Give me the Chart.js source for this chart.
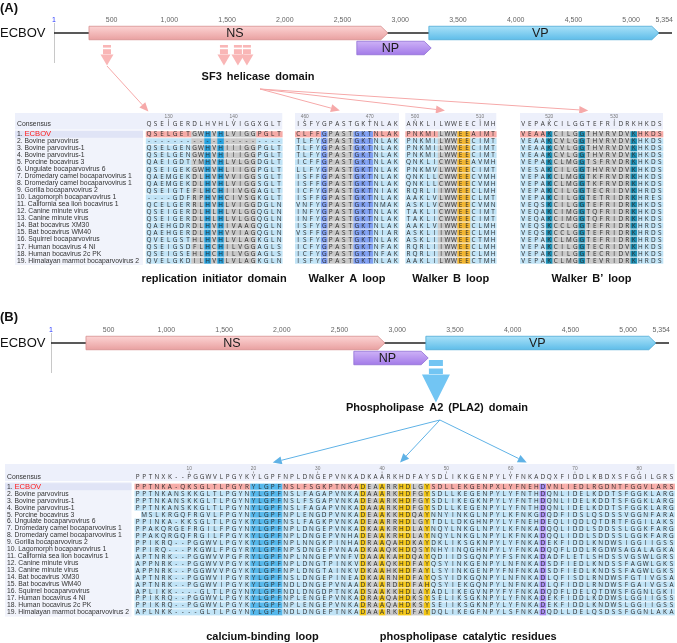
<!DOCTYPE html>
<html>
<head>
<meta charset="utf-8">
<title>ECBOV domains</title>
<script src="https://cdn.jsdelivr.net/npm/chart.js@4.4.1/dist/chart.umd.min.js"></script>
<style>
  html, body { margin: 0; padding: 0; background: #fff; }
  canvas { display: block; }
</style>
</head>
<body>
<canvas id="figure" width="677" height="643"></canvas>
<script>
// Genome map
const genomeTicks = [1, 500, 1000, 1500, 2000, 2500, 3000, 3500, 4000, 4500, 5000, 5354];
const geneNames = ['NS', 'NP', 'VP'];
const geneStart = [304, 2624, 3248];
const geneEnd = [2893, 3268, 5240];
const geneTrack = [0, 1, 0];
const sf3Sites = [460, 1473, 1594, 1672];
const pla2Sites = [3335];

const strains = [
  '1. ECBOV',
  '2. Bovine parvovirus',
  '3. Bovine parvovirus-1',
  '4. Bovine parvovirus-1',
  '5. Porcine bocavirus 3',
  '6. Ungulate bocaparvovirus 6',
  '7. Dromedary camel bocaparvovirus 1',
  '8. Dromedary camel bocaparvovirus 1',
  '9. Gorilla bocaparvovirus 2',
  '10. Lagomorph bocaparvovirus 1',
  '11. California sea lion bocavirus 1',
  '12. Canine minute virus',
  '13. Canine minute virus',
  '14. Bat bocavirus XM30',
  '15. Bat bocavirus WM40',
  '16. Squirrel bocaparvovirus',
  '17. Human bocavirus 4 NI',
  '18. Human bocavirus 2c PK',
  '19. Himalayan marmot bocaparvovirus 2'
];

// Panel A: NS alignment, four windows
// class codes: n = plain, g = conserved (grey), m = motif
const repStart = 127;
const repTicks = [130, 140];
const repCons = 'QSEIGERDLHVHLVIGGXGLT';
const repClass = 'nnnnnnnggmgmgggggnnnn';
const repSeqs = [
  'QSELGETGWHVHLVIGGPGLT',
  '---------------------',
  'QSELGENGWHVHIIIGGPGLT',
  'QSELGENGWHVHIIIGGPGLT',
  'QAEIGDTYMHVHLVLGGDGLT',
  'QSEIGEKGWHVHLIIGGPGLT',
  'QAEMGEKDLHVHVVIGGSGLT',
  'QAEMGEKDLHVHLVIGGSGLT',
  'QSEIGTEFLHCHIIVGGAGLT',
  '----GDFRPHVHCIVSGKGLT',
  'QCELGERRLHVHLVIGGDGLN',
  'QSEIGERDLHLHLVLGGQGLN',
  'QSEIGERDLHLHLVLGGQGLN',
  'QAEHGDRDLHVHIVAAGQGLN',
  'QAEHGERDLHVHVVIAGQGLN',
  'QVELGSTHLHVHLVLAGKGLN',
  'QSEIGSDFLHCHILVGGAGLS',
  'QSEIGSEHLHCHILVGGAGLS',
  'QVELGKDILHVHLVLAGKGLN'
];

const walkAStart = 459;
const walkATicks = [460, 470];
const walkACons = 'ISFYGPASTGKTNLAK';
const walkAClass = 'nnnnmggggmmmnnnn';
const walkASeqs = [
  'CLFFGPASTGKTNLAK',
  'TLFYGPASTGKTNLAK',
  'TLFYGPASTGKTNLAK',
  'TLFYGPASTGKTNLAK',
  'ICFFGPASTGKTNLAK',
  'LLFYGPASTGKTNLAK',
  'ISFFGPASTGKTNLAK',
  'ISFFGPASTGKTNLAK',
  'ICFYGPASTGKTNIAK',
  'ISFFGPASTGKTNLAK',
  'VNFYGPASTGKTNMAK',
  'INFYGPASTGKTNLAK',
  'INFYGPASTGKTNLAK',
  'ISFYGPASTGKTNLAK',
  'VSFFGPASTGKTNIAR',
  'ISFYGPASTGKTNLAK',
  'ICFYGPASTGKTNFAK',
  'ICFYGPASTGKTNFAK',
  'ISFYGPASTGKTNLAK'
];

const walkBStart = 499;
const walkBTicks = [500, 510];
const walkBCons = 'ANKLILWWEECIMH';
const walkBClass = 'nnnnngggmmnnnn';
const walkBSeqs = [
  'PNKMILWWEEAIMT',
  'PNKMILWWEECIMT',
  'PNKMILWWEECIMT',
  'PNKMILWWEECIMT',
  'QNKLICWWEEAVMH',
  'PNKMVLWWEECIMT',
  'QNKLLCWWEECVMH',
  'QNKLLCWWEECVMH',
  'RQRLIIWWEECLMH',
  'AAKLVLWWEECLMT',
  'ASKLVCWWEECVMN',
  'TAKLICWWEECIMT',
  'TAKLICWWEECIMT',
  'AAKLVIWWEECLMH',
  'ASKLIIWWEECLMH',
  'ASKLIIWWEECTMH',
  'RQRLIIWWEECLMH',
  'RQRLIIWWEECLMH',
  'AAKLILWWEECTMH'
];

const walkB2Start = 516;
const walkB2Ticks = [520, 530];
const walkB2Cons = 'VEPAKCILGGTEFRIDRKHKDS';
const walkB2Class = 'nnnnmggggmgggggggmnnnn';
const walkB2Seqs = [
  'VEAAKCILGGTHVRVDVKHKDS',
  'VEAAKCVLGGTHVRVDVKHKDS',
  'VEAAKCVLGGTHVRVDVKHKDS',
  'VEAAKCVLGGTHVRVDVKHKDS',
  'VEPAKCLMGGTSFRVDRKHKDS',
  'VESAKCILGGTHVRVDVKHKDS',
  'VEPAKCLMGGTKFRVDRKHKDS',
  'VEPAKCLMGGTKFRVDRKHKDS',
  'VEPAKCILGGTECRIDVKHRDS',
  'VEPAKCILGGTETRIDRKHRES',
  'VEQSKCILGGTEFRIDRKHKDS',
  'VEQAKCIMGGTQFRIDRKHKDS',
  'VEQAKCIMGGTQFRIDRKHKDS',
  'VEQSKCCLGGTEFRIDRKHRDS',
  'VEQSKCCLGGTEFRIDRKHRDS',
  'VEPAKCLMGGTEFRIDRKHRDS',
  'VEPAKCILGGTECRIDVKHKDS',
  'VEPAKCILGGTECRIDVKHKDS',
  'VEPAKCLMGGTEVRIDRKHRDS'
];

// Panel B: VP PLA2 alignment
// class codes: n plain, m calcium loop, y / g catalytic block, p catalytic D
const plaStart = 2;
const plaTicks = [10, 20, 30, 40, 50, 60, 70, 80];
const plaCons = 'PPTNXK--PGGWVLPGYKYLGPFNPLDNGEPVNKADKAARKHDFAYSDLIKKGENPYLYFNKADQXFIDDLKBDXSFGGILGRS';
const plaClass = 'nnnnnnnnnnnnnnnnnn' + 'mmmmm' + 'nnnnnnnnnnnn' + 'yggyggyyggy' +
                 'nnnnnnnnnnnnnnnnn' + 'p' + 'nnnnnnnnnnnnnnnnnnnn';
const plaSeqs = [
  'PPTNKA-QKSGLTLPGYRYLGPFNSLFSGKPTNKADEAARRHDLGYSDLLEKGENPXLYFNEHDVNLIEDLRGDNTFGGVLARS',
  'PPTNKANSKKGLTLPGYNYLGPFNSLFAGAPVNKADAAARKHDFGYSDLLKEGENPYLYFNTHDQNLIDELKDDTSFGGKLARG',
  'PPTNKANSKKGLTLPGYNYLGPFNSLFSGAPVNKADEAARKHDFGYSDLIKEGKNPYLYFNTHDQNLIDELKDDTSFGGKLARG',
  'PPTNKANSKKGLTLPGYNYLGPFNSLFAGAPVNKADAAARKHDFGYSDLLKEGENPYLYFNTHDQNLIDELKDDTSFGGKLARG',
  ' MSLKRGQFRGVLFPGYNYLGPFNPLENGDPVNKADEAAKKHDQAYNNYINKGLNPYLKFNKGDQDFIDSLQSDSSVGGNFARA',
  'PPINKA-KKSGLTLPGYKYLGPFNSLFAGKPVNKADEAARRHDLGYTDLLDKGHNPYLYFNEHDEQLIQDLQTDRTFGGILAKS',
  'PPAKQRGEFRGILFPGYNYLGPFNPLDNGEPVNKADKAAKRHDLAYNQYLNKGLNPYLKFNKADQQLIDDLSDDSSLGGKFARG',
  'PPAKQRGQFRGILFPGYKYLGPFNPLDNGEPVNHADEAAKRHDLAYNQYLNKGLNPYLKFNKADQQLIDDLSDDSSLGGKFARG',
  'PPIKRQ--PGGWVLPGYKYLGPFNPLNNGKPINHADRAAQAHDKAYDKLIKSGKNPYLYFNKADEKFIDDLKNDWSIGGIIGSS',
  'PPIRQ---PKGWLFPGYRYLGPFNPSDNGEPVNAADKAAQKHDQSYNHYINQGHNPYLYFNKADQQFLDDLRGDWSAGALAGKA',
  'APTNRK--PGGWVVPGFRYLGPFNPLNNGEPVNFVDAAAKAHDQAYQDIIDSGQNPYFSFNKADADFLETLSHDSSVGSWLGRS',
  'APPNRK--PGGWVVPGYKYLGPFNPLDNGTPINKVDKAAQKHDFAYQSYINKGENPYLNFNKADSDFIEDLKNDSSFAGWLGKS',
  'APPNRK--PGGWVVPGYKYLGPFNPLDNGTAINKVDKAAHKHDFAYLSYINKGENPYFNFNKADSDFIEDLKNDSSFAGWLGKS',
  'APTNRK--PGGWVIPGYRYLGPFNSLDNGEPINEADKAARNHDFAYQSYIDKGQNPYLNFNKADLQFISDLRNDWSFGTIVGSA',
  'APTNRK--PGGWVIPGYKYLGPFNDLDNGEPVNAADKAARDHDFAHQSYIEKGQNPYLNFNKADLQFIDDLRNDWSFGAIVGSA',
  'APLIKK----GLTLPGYNYLGPFNDLDNGDPTNKADSAAKKHDLAYADLIKEGVNPYFYFNKADQDFLDELQTDWSFGGNLGKI',
  'PPIKRQ--PGGWVLPGYKYLGPFNPLENGEPVNKADRAAQAHDKSYSELIKSGKNPYLYFNKADEKFIDDLKDDWSLGGIIGSS',
  'PPIKRQ--PGGWVLPGYKYLGPFNPLENGEPVNKADRAAQAHDKSYSEIIKSGKNPYLYFNKADEKFIDDLKNDWSLGGIIGSS',
  'APLNKK----GLTLPGYNYLGPFNDLDNGEPTNKADAAARKHDFAYDQLIKEGFNPYLSFNKADQDLLDELQSDSSFGGNLAKA'
];

// ---------- layout ----------
const W = 677, H = 643;
const UI = '"Liberation Sans", Arial, sans-serif';
const SEQ_FONT = '6.4px "Open Sans", "Liberation Sans", sans-serif';
const NAME_FONT = '6.8px ' + UI;
const LIGHT = '#c0e3f6', PINK = '#f6aba7', GREY = '#c9c9c9';
const CONS_ROW = -0.43;

// linear range so that value v0 lands on pixel p0 and v1 on p1
function fit(v0, p0, v1, p1, size) {
  const k = (p1 - p0) / (v1 - v0);
  return { min: v0 - p0 / k, max: v0 + (size - p0) / k };
}
function hidden(axis, range, reverse) {
  return Object.assign({ type: 'linear', axis: axis, display: false, bounds: 'data', reverse: !!reverse }, range);
}

const MAP_A = { letter: '(A)', letterY: 8, tickY: 20, vTop: 23, vBottom: 63 };
const MAP_B = { letter: '(B)', letterY: 317, tickY: 330, vTop: 333, vBottom: 373 };
const ARROW_A = { top: 45, r1: 2.6, gap: 1.6, r2: 5, gap2: 0.4, head: 11, shaft: 8, headW: 13, color: '#f9b6b6' };
const ARROW_B = { top: 360, r1: 6, gap: 2.5, r2: 5.5, gap2: 0.5, head: 28, shaft: 14, headW: 28, color: '#72c5f3' };

const ALIGN_A = { namesLeft: 15, namesRight: 143, headTop: 113, headBottom: 129.6, numY: 116.3, labelY: 279 };
const ALIGN_B = { namesLeft: 5, namesRight: 131.5, headTop: 464, headBottom: 481, numY: 468.8, labelY: 637 };

const segsA = [
  { offset: 145.8 / 6.5, start: repStart, ticks: repTicks, cons: repCons, cls: repClass, seqs: repSeqs,
    colors: { m: '#26a3e0' }, labels: [{ text: 'replication initiator domain' }] },
  { offset: 295 / 6.5, start: walkAStart, ticks: walkATicks, cons: walkACons, cls: walkAClass, seqs: walkASeqs,
    colors: { m: '#7f9ff2' }, labels: [{ text: 'Walker A loop' }] },
  { offset: 405.3 / 6.5, start: walkBStart, ticks: walkBTicks, cons: walkBCons, cls: walkBClass, seqs: walkBSeqs,
    colors: { m: '#f2b632' }, labels: [{ text: 'Walker B loop' }] },
  { offset: 520 / 6.5, start: walkB2Start, ticks: walkB2Ticks, cons: walkB2Cons, cls: walkB2Class, seqs: walkB2Seqs,
    colors: { m: '#1b90b6' }, labels: [{ text: 'Walker B\u2019 loop' }] }
];
const segsB = [
  { offset: 134.5 / 6.43, start: plaStart, ticks: plaTicks, cons: plaCons, cls: plaClass, seqs: plaSeqs,
    colors: { m: '#55b8ec', y: '#f3c614', p: '#a88cf2' },
    labels: [{ text: 'calcium-binding loop', col: 19.4 }, { text: 'phospholipase catalytic residues', col: 51.4 }] }
];

// ---------- drawing helpers ----------
function drawGene(ctx, x0, x1, yc, h, tip, c) {
  const g = ctx.createLinearGradient(0, yc - h / 2, 0, yc + h / 2);
  g.addColorStop(0, c[0]);
  g.addColorStop(1, c[1]);
  ctx.beginPath();
  ctx.moveTo(x0, yc - h / 2);
  ctx.lineTo(x1 - tip, yc - h / 2);
  ctx.lineTo(x1, yc);
  ctx.lineTo(x1 - tip, yc + h / 2);
  ctx.lineTo(x0, yc + h / 2);
  ctx.closePath();
  ctx.fillStyle = g;
  ctx.fill();
  ctx.strokeStyle = c[2];
  ctx.lineWidth = 0.8;
  ctx.stroke();
}

const geneColors = {
  NS: ['#fcd3d3', '#e9a1a1', '#d58e8e'],
  NP: ['#cdb1f7', '#a37be8', '#9170d6'],
  VP: ['#a9e1f8', '#5fbde9', '#4ba9d6']
};

function drawMap(ctx, xs, ts, lay) {
  ctx.textBaseline = 'middle';
  ctx.textAlign = 'left';
  ctx.fillStyle = '#111';
  ctx.font = 'bold 13px ' + UI;
  ctx.fillText(lay.letter, 0, lay.letterY);

  // tick labels
  ctx.font = '7px ' + UI;
  genomeTicks.forEach((t, i) => {
    const x = xs.getPixelForValue(t);
    const last = i === genomeTicks.length - 1;
    ctx.textAlign = last ? 'right' : 'center';
    ctx.fillStyle = i === 0 ? '#2233ff' : '#666';
    ctx.fillText(t.toLocaleString('en-US'), last ? x + 1 : x, lay.tickY);
  });

  const yLine = ts.getPixelForValue(0);
  const xFirst = xs.getPixelForValue(genomeTicks[0]);
  const xLast = xs.getPixelForValue(genomeTicks[genomeTicks.length - 1]);
  ctx.strokeStyle = '#c8c8c8';
  ctx.lineWidth = 1;
  ctx.beginPath();
  ctx.moveTo(xFirst + 0.5, lay.vTop);
  ctx.lineTo(xFirst + 0.5, lay.vBottom);
  ctx.stroke();
  ctx.strokeStyle = '#222';
  ctx.lineWidth = 1.4;
  ctx.beginPath();
  ctx.moveTo(xFirst, yLine);
  ctx.lineTo(xLast, yLine);
  ctx.stroke();

  ctx.font = '13px ' + UI;
  ctx.fillStyle = '#111';
  ctx.textAlign = 'left';
  ctx.fillText('ECBOV', 0, yLine);

  geneNames.forEach((nm, i) => {
    const x0 = xs.getPixelForValue(geneStart[i]);
    const x1 = xs.getPixelForValue(geneEnd[i]);
    const yc = ts.getPixelForValue(geneTrack[i]);
    drawGene(ctx, x0, x1, yc, 13.5, 7, geneColors[nm]);
    ctx.font = '12.5px ' + UI;
    ctx.fillStyle = '#1a1a1a';
    ctx.textAlign = 'center';
    ctx.fillText(nm, (x0 + x1 - 7) / 2, yc + 0.5);
  });
}

function blockArrow(ctx, x, a) {
  ctx.fillStyle = a.color;
  let y = a.top;
  ctx.fillRect(x - a.shaft / 2, y, a.shaft, a.r1);
  y += a.r1 + a.gap;
  ctx.fillRect(x - a.shaft / 2, y, a.shaft, a.r2);
  y += a.r2 + a.gap2;
  ctx.beginPath();
  ctx.moveTo(x - a.headW / 2, y);
  ctx.lineTo(x + a.headW / 2, y);
  ctx.lineTo(x, y + a.head);
  ctx.closePath();
  ctx.fill();
}

function connector(ctx, x0, y0, x1, y1, color, L, Wd) {
  const ang = Math.atan2(y1 - y0, x1 - x0);
  const bx = x1 - L * Math.cos(ang), by = y1 - L * Math.sin(ang);
  ctx.strokeStyle = color;
  ctx.lineWidth = 1;
  ctx.beginPath();
  ctx.moveTo(x0, y0);
  ctx.lineTo(bx, by);
  ctx.stroke();
  ctx.fillStyle = color;
  ctx.beginPath();
  ctx.moveTo(x1, y1);
  ctx.lineTo(bx + Wd * Math.sin(ang), by - Wd * Math.cos(ang));
  ctx.lineTo(bx - Wd * Math.sin(ang), by + Wd * Math.cos(ang));
  ctx.closePath();
  ctx.fill();
}

function boldLabel(ctx, text, x, y, size) {
  ctx.font = 'bold ' + size + 'px ' + UI;
  ctx.fillStyle = '#111';
  ctx.textAlign = 'center';
  ctx.textBaseline = 'middle';
  ctx.wordSpacing = '2px';
  ctx.fillText(text, x, y);
  ctx.wordSpacing = '0px';
}

function drawAlignment(ctx, xs, ys, lay, segs) {
  const colW = xs.getPixelForValue(1) - xs.getPixelForValue(0);
  const rowH = ys.getPixelForValue(2) - ys.getPixelForValue(1);
  const lastY = ys.getPixelForValue(strains.length);
  const namesW = lay.namesRight - lay.namesLeft;

  // header bands
  ctx.fillStyle = '#edf0fb';
  segs.forEach((sg, k) => {
    const left = k === 0 ? lay.namesLeft : xs.getPixelForValue(sg.offset);
    const right = xs.getPixelForValue(sg.offset + sg.cons.length);
    ctx.fillRect(left, lay.headTop, right - left, lay.headBottom - lay.headTop);
  });
  // name panel
  ctx.fillStyle = '#f1f3fb';
  ctx.fillRect(lay.namesLeft, lay.headBottom + 0.8, namesW, lastY + rowH / 2 - lay.headBottom);
  ctx.fillStyle = '#e0e4f6';
  ctx.fillRect(lay.namesLeft, ys.getPixelForValue(1) - rowH / 2, namesW, rowH);

  // names
  ctx.textBaseline = 'middle';
  ctx.textAlign = 'left';
  ctx.font = NAME_FONT;
  ctx.fillStyle = '#333';
  const nx = lay.namesLeft + 2;
  ctx.fillText('Consensus', nx, ys.getPixelForValue(CONS_ROW));
  strains.forEach((nm, i) => {
    const y = ys.getPixelForValue(i + 1);
    ctx.font = NAME_FONT;
    ctx.fillStyle = '#333';
    if (i === 0) {
      const cut = nm.indexOf(' ') + 1;
      ctx.fillText(nm.slice(0, cut), nx, y);
      const w = ctx.measureText(nm.slice(0, cut)).width;
      ctx.font = '7.6px ' + UI;
      ctx.fillStyle = '#ff1a1a';
      ctx.fillText(nm.slice(cut), nx + w, y);
    } else {
      ctx.fillText(nm, nx, y);
    }
  });

  segs.forEach(sg => {
    const pal = Object.assign({ g: GREY }, sg.colors);
    const cx = j => xs.getPixelForValue(sg.offset + j + 0.5);

    // position numbers
    ctx.font = '4.8px ' + UI;
    ctx.fillStyle = '#777';
    ctx.textAlign = 'center';
    sg.ticks.forEach(t => {
      const x = cx(t - sg.start);
      ctx.fillText(String(t), x, lay.numY);
      ctx.fillRect(x - 0.3, lay.numY + 2.6, 0.6, 2);
    });

    // consensus letters
    ctx.font = SEQ_FONT;
    ctx.fillStyle = '#333';
    const cy = ys.getPixelForValue(CONS_ROW);
    for (let j = 0; j < sg.cons.length; j++) ctx.fillText(sg.cons[j], cx(j), cy + 0.3);

    // cells
    sg.seqs.forEach((seq, i) => {
      const y = ys.getPixelForValue(i + 1);
      for (let j = 0; j < seq.length; j++) {
        if (seq[j] === ' ') continue;
        const c = sg.cls[j] || 'n';
        ctx.fillStyle = c === 'n' ? (i === 0 ? PINK : LIGHT) : pal[c];
        const x0 = xs.getPixelForValue(sg.offset + j);
        ctx.fillRect(x0, y - rowH / 2 + 0.45, colW + 0.3, rowH - 0.9);
      }
      ctx.fillStyle = '#2d2d2d';
      for (let j = 0; j < seq.length; j++) {
        if (seq[j] !== ' ') ctx.fillText(seq[j], cx(j), y + 0.3);
      }
    });

    // labels under the window
    sg.labels.forEach(lb => {
      const col = lb.col !== undefined ? lb.col : sg.cons.length / 2 - 0.5;
      boldLabel(ctx, lb.text, cx(col), lay.labelY, 11);
    });
  });
}

const figurePlugin = {
  id: 'figure',
  afterDraw(chart) {
    const ctx = chart.ctx;
    const s = chart.scales;
    ctx.save();

    // ---- panel A ----
    drawMap(ctx, s.xA, s.yTA, MAP_A);
    sf3Sites.forEach(b => blockArrow(ctx, s.xA.getPixelForValue(b), ARROW_A));
    boldLabel(ctx, 'SF3 helicase domain', 258, 77, 11);
    const pinkLine = '#f6a9a9';
    connector(ctx, s.xA.getPixelForValue(sf3Sites[0]), 66,
      s.xCA.getPixelForValue(segsA[0].offset + 0.4), 111.5, pinkLine, 9, 4);
    [6.9, 6.1, 10.5].forEach((c, k) => {
      connector(ctx, 260, 89, s.xCA.getPixelForValue(segsA[k + 1].offset + c), 110.5, pinkLine, 9, 4);
    });
    drawAlignment(ctx, s.xCA, s.yRA, ALIGN_A, segsA);

    // ---- panel B ----
    drawMap(ctx, s.xB, s.yTB, MAP_B);
    const xArrow = s.xB.getPixelForValue(pla2Sites[0]);
    blockArrow(ctx, xArrow, ARROW_B);
    boldLabel(ctx, 'Phospholipase A2 (PLA2) domain', xArrow + 1, 408, 11);
    [21.5, 41.3, 61.0].forEach(c => {
      connector(ctx, xArrow + 4, 420, s.xCB.getPixelForValue(segsB[0].offset + c), 462.5, '#5fb2e6', 9, 4);
    });
    drawAlignment(ctx, s.xCB, s.yRB, ALIGN_B, segsB);

    ctx.restore();
  }
};

new Chart(document.getElementById('figure'), {
  type: 'scatter',
  data: { datasets: [{ data: [], xAxisID: 'xA', yAxisID: 'yTA' }] },
  options: {
    responsive: false,
    animation: false,
    events: [],
    layout: { padding: 0 },
    plugins: { legend: { display: false }, tooltip: { enabled: false } },
    scales: {
      x: { display: false },
      y: { display: false },
      xA: hidden('x', fit(1, 54, 5354, 672, W)),
      xB: hidden('x', fit(1, 51, 5354, 669, W)),
      yTA: hidden('y', fit(0, 33, 1, 48, H), true),
      yTB: hidden('y', fit(0, 343, 1, 358, H), true),
      xCA: hidden('x', fit(0, 0, 1, 6.5, W)),
      yRA: hidden('y', fit(1, 134.3, 2, 141.32, H), true),
      xCB: hidden('x', fit(0, 0, 1, 6.43, W)),
      yRB: hidden('y', fit(1, 486.7, 2, 493.68, H), true)
    }
  },
  plugins: [figurePlugin]
});
</script>
</body>
</html>
